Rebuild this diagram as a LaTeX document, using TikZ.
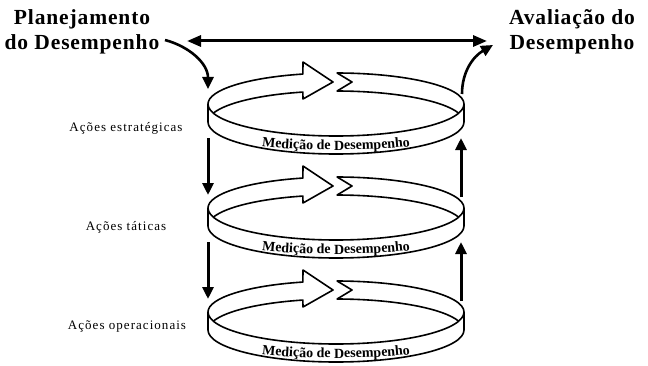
\documentclass[tikz,border=0pt]{standalone}
\usepackage{fontspec}
\setmainfont{Liberation Serif}
\newfontfamily\levelfont[LetterSpace=8]{Liberation Serif}
\newfontfamily\titlefont[LetterSpace=4]{Liberation Serif}
\usepackage{tikz}
\usetikzlibrary{arrows.meta,positioning,decorations.text,calc}

\begin{document}
\begin{tikzpicture}[
  x=1pt, y=1pt,
  title/.style={align=center, font=\titlefont\fontsize{21.5}{25}\selectfont\bfseries},
  level/.style={font=\levelfont\fontsize{13}{14}\selectfont},
  band/.style={line width=1.6pt, line join=round},
  arr/.style={-{Triangle[length=12pt,width=11pt]}, line width=3pt},
  curv/.style={-{Triangle[length=12pt,width=11pt]}, line width=2.6pt},
  dbl/.style={{Triangle[length=14pt,width=11pt]}-{Triangle[length=14pt,width=11pt]}, line width=3pt}
]
\useasboundingbox (0,0) rectangle (648,365);

% the three rings
\foreach \k in {0,1,2} {
  \begin{scope}[shift={(0,-104*\k)}]
    % front band
    \draw[band] (208,261) arc[start angle=180, end angle=360, x radius=128pt, y radius=32pt];
    \draw[band] (208,243) arc[start angle=180, end angle=360, x radius=128pt, y radius=32pt];
    \draw[band] (208,261) -- (208,243);
    \draw[band] (464,261) -- (464,243);
    % back band: arrow
    \draw[band] (208,261) arc[start angle=180, end angle=105, x radius=128pt, y radius=31pt]
      -- (303,303) -- (333,283) -- (303,266)
      -- ([shift={(336,243)}]105:128pt and 31pt)
      arc[start angle=105, end angle=163.1, x radius=128pt, y radius=31pt];
    % back band: notched tail
    \draw[band] ([shift={(336,243)}]16.9:128pt and 31pt)
      arc[start angle=16.9, end angle=89.5, x radius=128pt, y radius=31pt]
      -- (352,283) -- ([shift={(336,261)}]89.5:128pt and 31pt)
      arc[start angle=89.5, end angle=0, x radius=128pt, y radius=31pt];
    % label on the band
    \path[decorate, decoration={text along path, text align=center,
        text={|\bfseries\fontsize{14}{14}\selectfont|Medição de Desempenho}}]
      ([shift={(336,235)}]-128:128pt and 20pt)
      arc[start angle=-128, end angle=-52, x radius=128pt, y radius=20pt];
    % arrow ends
    \coordinate (dn\k) at (208,227);
    \coordinate (dt\k) at (208,170);
    \coordinate (up\k) at (461,168);
    \coordinate (ut\k) at (461,227);
  \end{scope}
}

\node[level] (strat) at (126,237) {Ações estratégicas};
\node[level] (tact) at (126,138) {Ações táticas};
\node[level] (oper) at (127,38) {Ações operacionais};

\node[title] (plan) at (82,333) {Planejamento\\do Desempenho};
\node[title] (aval) at (572,333) {Avaliação do\\Desempenho};

\coordinate (dblL) at (187,324);
\coordinate (dblR) at (487,324);
\coordinate (planEnd) at (165,325);
\coordinate (ringIn) at (208,276);
\coordinate (ringOut) at (462,271);
\coordinate (avalIn) at (493,320);

\draw[dbl] (dblL) -- (dblR);
\draw[curv] (planEnd) to[out=-15, in=90] (ringIn);
\draw[curv] (ringOut) to[out=90, in=210] (avalIn);

\draw[arr] (dn0) -- (dt0);
\draw[arr] (dn1) -- (dt1);
\draw[arr] (up0) -- (ut0);
\draw[arr] (up1) -- (ut1);
\end{tikzpicture}
\end{document}
